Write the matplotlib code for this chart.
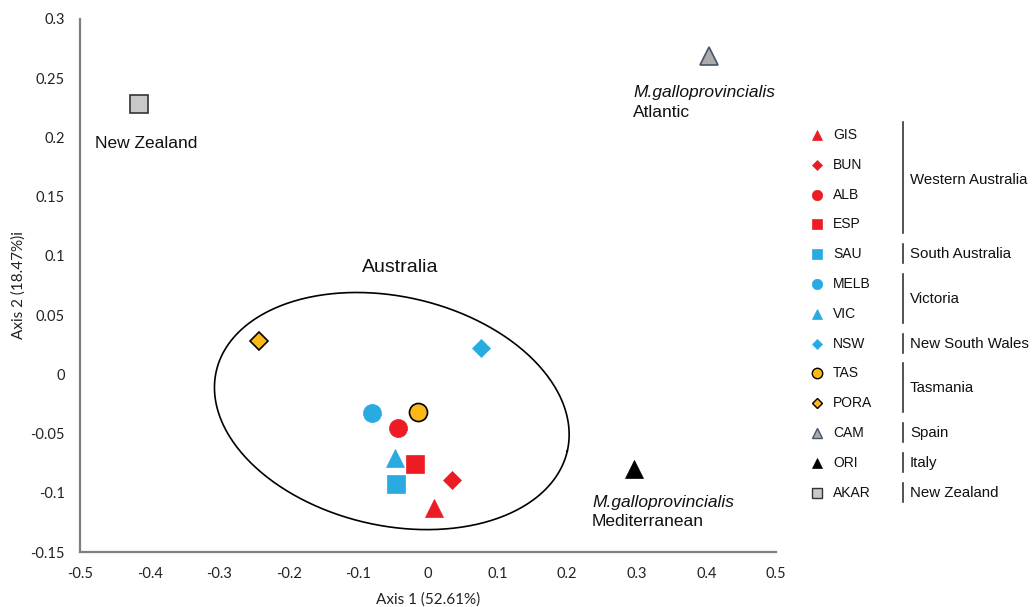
import numpy as np
import matplotlib.pyplot as plt
from matplotlib.ticker import FuncFormatter

# PCoA coordinates of the mussel populations
names = ['GIS', 'BUN', 'ALB', 'ESP', 'SAU', 'MELB', 'VIC', 'NSW', 'TAS', 'PORA', 'CAM', 'ORI', 'AKAR']
axis1 = [0.009, 0.034, -0.043, -0.019, -0.046, -0.080, -0.047, 0.076, -0.014, -0.243, 0.404, 0.296, -0.415]
axis2 = [-0.113, -0.089, -0.045, -0.076, -0.093, -0.033, -0.071, 0.022, -0.032, 0.028, 0.269, -0.080, 0.228]

RED = '#ED1C24'
BLUE = '#29ABE2'
ORANGE = '#FBB917'
markers = ['^', 'D', 'o', 's', 's', 'o', '^', 'D', 'o', 'D', '^', '^', 's']
faces = [RED, RED, RED, RED, BLUE, BLUE, BLUE, BLUE, ORANGE, ORANGE, '#ABABAB', 'black', '#C8C8C8']
edges = [RED, RED, RED, RED, BLUE, BLUE, BLUE, BLUE, 'black', 'black', '#44546A', 'black', '#333333']

# regions grouping the legend rows
regions = ['Western Australia', 'South Australia', 'Victoria', 'New South Wales',
           'Tasmania', 'Spain', 'Italy', 'New Zealand']
region_sizes = [4, 1, 2, 1, 2, 1, 1, 1]

# marker size (points) per marker type
plot_ms = {'o': 13, 's': 12.5, '^': 12.5, 'D': 9.2}
leg_ms = {'o': 7.5, 's': 7, '^': 7.5, 'D': 5.5}

W, H = 1033, 607
fig = plt.figure(figsize=(W / 100, H / 100), dpi=100)
ax = fig.add_axes([80 / W, 1 - 552 / H, 696 / W, 533 / H])

for x, y, m, fc, ec in zip(axis1, axis2, markers, faces, edges):
    lw = 1.2 if ec != fc else 0.5
    ax.plot(x, y, marker=m, ms=plot_ms[m], mfc=fc, mec=ec, mew=lw, ls='none', zorder=3)

ax.set_xlim(-0.5, 0.5)
ax.set_ylim(-0.15, 0.3)
ax.set_xticks(np.round(np.arange(-0.5, 0.51, 0.1), 2))
ax.set_yticks(np.round(np.arange(-0.15, 0.31, 0.05), 2))
fmt = FuncFormatter(lambda v, p: '0' if abs(v) < 1e-9 else ('%g' % round(v, 2)))
ax.xaxis.set_major_formatter(fmt)
ax.yaxis.set_major_formatter(fmt)
ax.tick_params(length=0, pad=11, labelsize=10.5, labelcolor='#222222')
for lab in ax.get_xticklabels() + ax.get_yticklabels():
    lab.set_family('Lato')
for s in ['top', 'right']:
    ax.spines[s].set_visible(False)
for s in ['left', 'bottom']:
    ax.spines[s].set_color('#7F7F7F')
    ax.spines[s].set_linewidth(1.6)

ax.set_xlabel('Axis 1 (52.61%)', family='Lato', fontsize=11, color='#222222', labelpad=8)
ax.set_ylabel('Axis 2 (18.47%)i', family='Lato', fontsize=11, color='#222222')
ax.yaxis.set_label_coords(-0.078, 0.5)

# ellipse around the Australian populations, sized in screen pixels
px_x, px_y = 696.0, 533.0 / 0.45
cx, cy = -0.052, -0.031
a, b, th = 180.0, 114.5, np.deg2rad(12.8)
t = np.linspace(0, 2 * np.pi, 400)
ex = cx + (a * np.cos(t) * np.cos(th) - b * np.sin(t) * np.sin(th)) / px_x
ey = cy - (a * np.cos(t) * np.sin(th) + b * np.sin(t) * np.cos(th)) / px_y
ax.plot(ex, ey, color='black', lw=1.2, zorder=2)

tkw = dict(family='Liberation Sans', fontsize=12.5, color='#111111', va='center')
ax.text(-0.478, 0.195, 'New Zealand', **tkw)
ax.text(-0.040, 0.090, 'Australia', ha='center', **dict(tkw, fontsize=14))
ax.text(0.2945, 0.238, 'M.galloprovincialis', style='italic', **tkw)
ax.text(0.2945, 0.221, 'Atlantic', **tkw)
ax.text(0.2356, -0.1085, 'M.galloprovincialis', style='italic', **tkw)
ax.text(0.2356, -0.1245, 'Mediterranean', **tkw)

# legend panel with region brackets, laid out in pixel coordinates
lg = fig.add_axes([0, 0, 1, 1], facecolor='none')
lg.set_xlim(0, W)
lg.set_ylim(H, 0)
lg.axis('off')
row0, step = 135, 29.8
rows = [row0 + step * i for i in range(len(names))]
for yy, n, m, fc, ec in zip(rows, names, markers, faces, edges):
    lw = 1.0 if ec != fc else 0.5
    lg.plot(817, yy, marker=m, ms=leg_ms[m], mfc=fc, mec=ec, mew=lw, ls='none')
    lg.text(833, yy, n, family='Liberation Sans', fontsize=10, va='center', color='#111111')

start = 0
for reg, n in zip(regions, region_sizes):
    top = rows[start] - 10
    bot = rows[start + n - 1] + 9
    if n == 4:
        top -= 3
    lg.plot([903, 903], [top, bot], color='#333333', lw=1.2)
    lg.text(910, (rows[start] + rows[start + n - 1]) / 2, reg, family='Liberation Sans',
            fontsize=10.8, va='center', color='#111111')
    start += n

fig.savefig('out.png', dpi=100)
